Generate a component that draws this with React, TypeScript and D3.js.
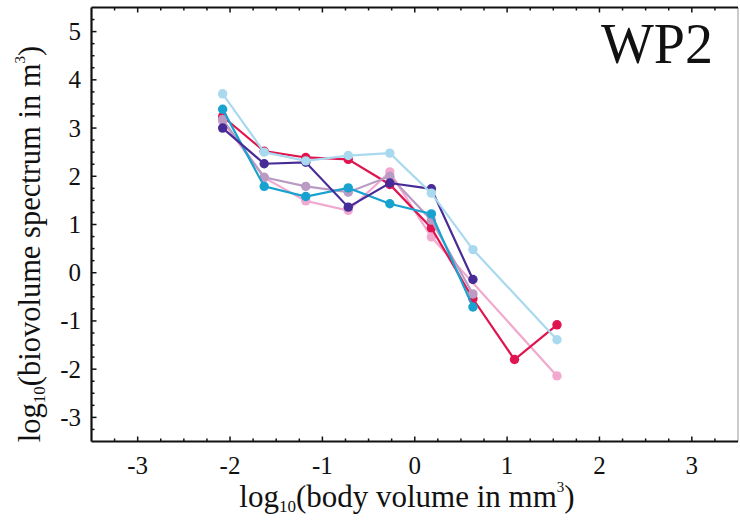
import React from "react";
import * as d3 from "d3";

const xValues = [-2.08, -1.63, -1.18, -0.72, -0.27, 0.18, 0.63, 1.08, 1.54];

const pinkSeries = [3.14, 1.97, 1.49, 1.29, 2.09, 0.74, null, null, -2.14];
const redSeries = [3.24, 2.52, 2.39, 2.35, 1.83, 0.93, -0.54, -1.8, -1.08];
const mauveSeries = [3.18, 1.98, 1.79, 1.67, 2.0, 1.09, -0.44, null, null];
const tealSeries = [3.39, 1.79, 1.58, 1.76, 1.43, 1.22, -0.71, null, null];
const purpleSeries = [3.0, 2.26, 2.29, 1.36, 1.86, 1.74, -0.14, null, null];
const lightBlueSeries = [3.71, 2.5, 2.32, 2.43, 2.48, 1.65, 0.48, null, -1.39];

const seriesList = [
  { name: "pink", values: pinkSeries, color: "#f2a9cf" },
  { name: "red", values: redSeries, color: "#e0154f" },
  { name: "mauve", values: mauveSeries, color: "#b99bc4" },
  { name: "teal", values: tealSeries, color: "#17a2cf" },
  { name: "purple", values: purpleSeries, color: "#472c97" },
  { name: "lightblue", values: lightBlueSeries, color: "#a9d9ef" },
];

const xTicks = [-3, -2, -1, 0, 1, 2, 3];
const yTicks = [-3, -2, -1, 0, 1, 2, 3, 4, 5];

const W = 740;
const H = 527;
const left = 91.5;
const right = 738;
const top = 7.5;
const bottom = 441.5;

export default function App() {
  const x = d3.scaleLinear().domain([-3.5, 3.5]).range([left, right]);
  const y = d3.scaleLinear().domain([-3.5, 5.5]).range([bottom, top]);

  const xMinor = d3.range(-3.5, 3.5001, 0.25);
  const yMinor = d3.range(-3.5, 5.5001, 0.25);

  const font = "'Liberation Serif', 'DejaVu Serif', serif";

  return (
    <svg
      width={W}
      height={H}
      style={{ position: "absolute", left: 0, top: 0, background: "#fff" }}
      fontFamily={font}
    >
      <rect x={0} y={0} width={W} height={H} fill="#fff" />
      {seriesList.map((s) => {
        const pts = s.values
          .map((v, i) => (v == null ? null : ([xValues[i], v] as [number, number])))
          .filter((p): p is [number, number] => p !== null);
        const line = d3
          .line<[number, number]>()
          .x((d) => x(d[0]))
          .y((d) => y(d[1]));
        return (
          <g key={s.name}>
            <path d={line(pts) || ""} fill="none" stroke={s.color} strokeWidth={2.2} />
            {pts.map((p, i) => (
              <circle key={i} cx={x(p[0])} cy={y(p[1])} r={4.7} fill={s.color} />
            ))}
          </g>
        );
      })}
      <line x1={right} x2={right} y1={top} y2={bottom} stroke="#999" strokeWidth={1} />
      <line x1={left} x2={right} y1={top} y2={top} stroke="#111" strokeWidth={2.2} />
      <line x1={left} x2={right} y1={bottom} y2={bottom} stroke="#111" strokeWidth={2.2} />
      <line x1={left} x2={left} y1={top} y2={bottom} stroke="#111" strokeWidth={2.2} />
      {xMinor.map((v) => {
        const major = Math.abs(v - Math.round(v)) < 1e-6;
        const len = major ? 5 : 3;
        if (v <= -3.5 || v >= 3.5) return null;
        return (
          <g key={"xt" + v}>
            <line x1={x(v)} x2={x(v)} y1={bottom} y2={bottom - len} stroke="#111" strokeWidth={1.5} />
            <line x1={x(v)} x2={x(v)} y1={top} y2={top + len} stroke="#111" strokeWidth={1.5} />
          </g>
        );
      })}
      {yMinor.map((v) => {
        const major = Math.abs(v - Math.round(v)) < 1e-6;
        const len = major ? 5 : 3;
        if (v <= -3.5 || v >= 5.5) return null;
        return (
          <line key={"yt" + v} x1={left} x2={left + len} y1={y(v)} y2={y(v)} stroke="#111" strokeWidth={1.5} />
        );
      })}
      {xTicks.map((t) => (
        <text key={"xl" + t} x={x(t)} y={474} textAnchor="middle" fontSize={25} fill="#111">
          {t}
        </text>
      ))}
      {yTicks.map((t) => (
        <text key={"yl" + t} x={81} y={y(t) + 8.5} textAnchor="end" fontSize={25} fill="#111">
          {t}
        </text>
      ))}
      <text x={407} y={507} textAnchor="middle" fontSize={31} fill="#111">
        log
        <tspan fontSize={17} dy={5}>10</tspan>
        <tspan dy={-5}>(body volume in mm</tspan>
        <tspan fontSize={15} dy={-15}>3</tspan>
        <tspan dy={15}>)</tspan>
      </text>
      <text
        transform={`translate(40,244) rotate(-90)`}
        textAnchor="middle"
        fontSize={30.5}
        fill="#111"
      >
        log
        <tspan fontSize={17} dy={5}>10</tspan>
        <tspan dy={-5}>(biovolume spectrum in m</tspan>
        <tspan fontSize={15} dy={-15}>3</tspan>
        <tspan dy={15}>)</tspan>
      </text>
      <text x={713} y={63} textAnchor="end" fontSize={56} fill="#111">
        WP2
      </text>
    </svg>
  );
}
